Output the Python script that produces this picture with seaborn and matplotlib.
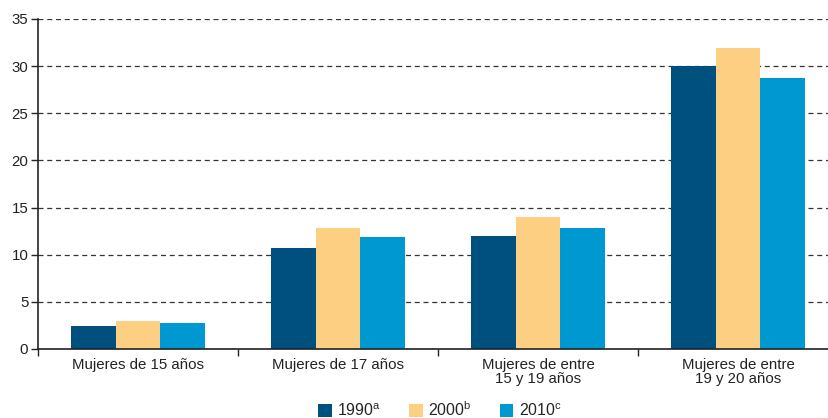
import matplotlib
matplotlib.use("Agg")
import matplotlib.pyplot as plt
import seaborn as sns
import pandas as pd
from matplotlib.ticker import FixedLocator

categories = ["Mujeres de 15 años", "Mujeres de 17 años",
              "Mujeres de entre\n15 y 19 años", "Mujeres de entre\n19 y 20 años"]
series = ["1990", "2000", "2010"]
series_labels = [r"1990$^{\mathrm{a}}$", r"2000$^{\mathrm{b}}$", r"2010$^{\mathrm{c}}$"]
v1990 = [2.4, 10.7, 12.0, 30.0]
v2000 = [3.0, 12.8, 14.0, 31.9]
v2010 = [2.8, 11.9, 12.8, 28.7]
yticks = [0, 5, 10, 15, 20, 25, 30, 35]
colors = ["#00507F", "#FDCF83", "#0098D0"]

rows = []
for s, vals in zip(series, [v1990, v2000, v2010]):
    for c, v in zip(categories, vals):
        rows.append({"cat": c, "serie": s, "val": v})
df = pd.DataFrame(rows)

sns.set_style("white")
plt.rcParams["font.family"] = ["Liberation Sans", "DejaVu Sans"]
plt.rcParams["mathtext.fontset"] = "custom"
plt.rcParams["mathtext.rm"] = "Liberation Sans"

fig = plt.figure(figsize=(8.29, 4.18), dpi=100)
ax = fig.add_axes([38/829, 69/418, 1 - 38/829, 330/418])
sns.barplot(data=df, x="cat", y="val", hue="serie", order=categories,
            hue_order=series, palette=colors, width=0.667, ax=ax,
            saturation=1, linewidth=0, errorbar=None)

ax.set_ylim(0, 35)
ax.set_xlim(-0.5, 3.5 - 9/200)
ax.set_yticks(yticks)
ax.set_yticklabels([str(t) for t in yticks])
ax.yaxis.grid(True, linestyle=(0, (4, 3)), color="#333333", linewidth=0.9)
ax.xaxis.grid(False)
ax.set_axisbelow(True)
ax.set_xlabel("")
ax.set_ylabel("")
for s in ["top", "right"]:
    ax.spines[s].set_visible(False)
for s in ["left", "bottom"]:
    ax.spines[s].set_color("#222222")
    ax.spines[s].set_linewidth(1.2)
ax.tick_params(axis="y", which="major", left=True, length=5, width=1, color="#222222",
               labelsize=10.8, pad=2, labelcolor="#222222")
ax.tick_params(axis="x", which="major", bottom=False, labelsize=10.8, pad=3, labelcolor="#222222")
ax.xaxis.set_minor_locator(FixedLocator([-0.5, 0.5, 1.5, 2.5]))
ax.tick_params(axis="x", which="minor", bottom=True, length=5, width=1, color="#222222")
for lbl in ax.get_xticklabels():
    lbl.set_linespacing(1.0)

handles, _ = ax.get_legend_handles_labels()
ax.legend(handles, series_labels, loc="lower center", bbox_to_anchor=(0.5 + 6.5/791, -0.231),
          ncol=3, frameon=False, fontsize=11.5, handlelength=0.85, handleheight=0.85,
          columnspacing=1.75, handletextpad=0.35, borderaxespad=0)

fig.savefig("out.png", dpi=100)
